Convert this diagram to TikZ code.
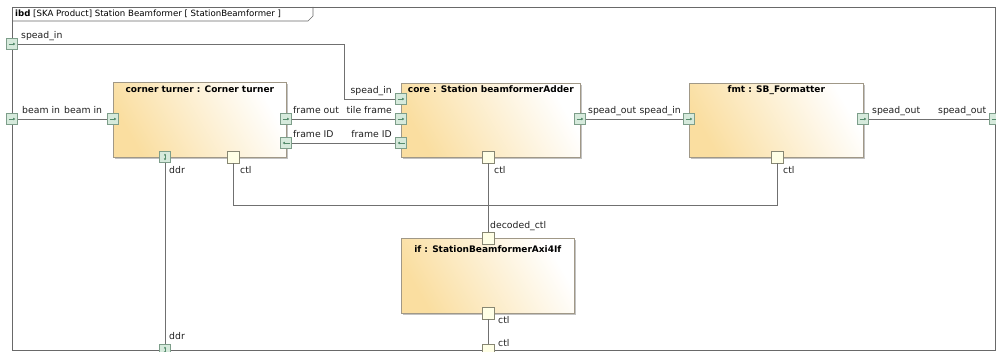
\documentclass[tikz,border=0pt]{standalone}
\usepackage{fontspec}
\setmainfont{DejaVu Sans}
\usetikzlibrary{arrows.meta,shadows,calc}
\definecolor{frm}{RGB}{105,105,105}
\definecolor{wire}{RGB}{112,112,112}
\definecolor{boxb}{RGB}{160,152,135}
\definecolor{boxf}{RGB}{250,222,160}
\definecolor{pfill}{RGB}{214,234,220}
\definecolor{pbord}{RGB}{125,158,138}
\definecolor{parr}{RGB}{85,140,108}
\definecolor{cfill}{RGB}{255,255,230}
\definecolor{cbord}{RGB}{135,135,115}
\tikzset{
 lbl/.style={inner sep=0, font=\fontsize{9.3}{11}\selectfont, text=black!88},
 ttl/.style={inner sep=0, font=\fontsize{9}{11}\selectfont\bfseries, anchor=base},
 blk/.style={draw=boxb, line width=0.7pt, left color=boxf, right color=white, shading angle=120,
   drop shadow={shadow xshift=2pt, shadow yshift=-2pt, fill=black!40, opacity=0.6},
   inner sep=0, anchor=north west},
 portbase/.style={draw=pbord, fill=pfill, minimum size=11pt, inner sep=0, line width=0.6pt},
 portR/.style={portbase, path picture={\draw[parr, line width=0.45pt, -{Latex[length=2.4pt,width=2.8pt]}]
   ([xshift=2pt]path picture bounding box.west) -- ([xshift=-2pt]path picture bounding box.east);}},
 portL/.style={portbase, path picture={\draw[parr, line width=0.45pt, -{Latex[length=2.4pt,width=2.8pt]}]
   ([xshift=-2pt]path picture bounding box.east) -- ([xshift=2pt]path picture bounding box.west);}},
 portUD/.style={portbase, path picture={\draw[parr, line width=0.45pt, {Latex[length=2pt,width=2.4pt]}-{Latex[length=2pt,width=2.4pt]}]
   ([yshift=-2pt]path picture bounding box.north) -- ([yshift=2pt]path picture bounding box.south);}},
 cport/.style={draw=cbord, fill=cfill, minimum size=12pt, inner sep=0, line width=0.6pt},
 conn/.style={draw=wire, line width=0.7pt},
}
\begin{document}
\begin{tikzpicture}[x=1pt,y=-1pt]
\useasboundingbox (0,0) rectangle (996,352);
% frame
\draw[frm, line width=0.8pt] (12,7) rectangle (995,350);
\draw[frm, line width=0.6pt] (12,21) -- (308,21) -- (313,16) -- (313,7);
\node[anchor=base west, inner sep=0, font=\fontsize{8.6}{10}\selectfont] (hdr) at (15,17)
  {\textbf{ibd} [SKA Product] Station Beamformer [ StationBeamformer ]};
% blocks
\node[blk, minimum width=173pt, minimum height=75pt] (ct) at (113,82) {};
\node[blk, minimum width=179pt, minimum height=74pt] (co) at (401,83) {};
\node[blk, minimum width=174pt, minimum height=74pt] (fm) at (689,83) {};
\node[blk, minimum width=173pt, minimum height=75pt] (if) at (401,238) {};
\node[ttl] (ctt) at ($(ct.north)+(0,11)$) {corner turner : Corner turner};
\node[ttl] (cot) at ($(co.north)+(0,10)$) {core : Station beamformerAdder};
\node[ttl] (fmt) at ($(fm.north)+(0,10)$) {fmt : SB\_Formatter};
\node[ttl] (ift) at ($(if.north)+(0,15)$) {if : StationBeamformerAxi4If};
% connectors
\coordinate (bend) at (344,44);
\coordinate (bus) at (0,205);
\path (12,44) coordinate (pa) (12,119) coordinate (pb) (995,119) coordinate (pc)
      (165,350) coordinate (pd) (488,350) coordinate (pe);
% ports
\node[portR] (f_spin) at (pa) {};
\node[portR] (f_bin) at (pb) {};
\node[portR] (f_sout) at (pc) {};
\node[portUD] (f_ddr) at (pd) {};
\node[cport] (f_ctl) at (pe) {};
\node[portR] (ct_bin) at (113,119) {};
\node[portR] (ct_fout) at (286,119) {};
\node[portL] (ct_fid) at (286,143) {};
\node[portUD] (ct_ddr) at (165,157) {};
\node[cport] (ct_ctl) at (233,157) {};
\node[portR] (co_spin) at (401,99) {};
\node[portR] (co_tile) at (401,119) {};
\node[portL] (co_fid) at (401,143) {};
\node[portR] (co_sout) at (580,119) {};
\node[cport] (co_ctl) at (488,157) {};
\node[portR] (fm_spin) at (689,119) {};
\node[portR] (fm_sout) at (863,119) {};
\node[cport] (fm_ctl) at (777,157) {};
\node[cport] (if_dec) at (488,238) {};
\node[cport] (if_ctl) at (488,313) {};
\draw[conn] (f_spin.east) -- (bend) |- (co_spin.west);
\draw[conn] (f_bin.east) -- (ct_bin.west);
\draw[conn] (ct_fout.east) -- (co_tile.west);
\draw[conn] (ct_fid.east) -- (co_fid.west);
\draw[conn] (co_sout.east) -- (fm_spin.west);
\draw[conn] (fm_sout.east) -- (f_sout.west);
\draw[conn] (ct_ddr.south) -- (f_ddr.north);
\draw[conn] (ct_ctl.south) -- (ct_ctl.south |- bus) -- (fm_ctl.south |- bus) -- (fm_ctl.south);
\draw[conn] (co_ctl.south) -- (if_dec.north);
\draw[conn] (if_ctl.south) -- (f_ctl.north);
% labels
\node[lbl, anchor=base west] (l1) at (21,39) {spead\_in};
\node[lbl, anchor=base east] (l2) at (392,94) {spead\_in};
\node[lbl, anchor=base west] (l3) at (22,114) {beam in};
\node[lbl, anchor=base west] (l4) at (64,114) {beam in};
\node[lbl, anchor=base west] (l5) at (293,114) {frame out};
\node[lbl, anchor=base east] (l6) at (392,114) {tile frame};
\node[lbl, anchor=base west] (l7) at (293,138) {frame ID};
\node[lbl, anchor=base east] (l8) at (392,138) {frame ID};
\node[lbl, anchor=base west] (l9) at (588,114) {spead\_out};
\node[lbl, anchor=base east] (l10) at (681,114) {spead\_in};
\node[lbl, anchor=base west] (l11) at (872,114) {spead\_out};
\node[lbl, anchor=base west] (l12) at (938,114) {spead\_out};
\node[lbl, anchor=base west] (l13) at (169,174) {ddr};
\node[lbl, anchor=base west] (l14) at (240,174) {ctl};
\node[lbl, anchor=base west] (l15) at (494,174) {ctl};
\node[lbl, anchor=base west] (l16) at (783,174) {ctl};
\node[lbl, anchor=base west] (l17) at (490,229) {decoded\_ctl};
\node[lbl, anchor=base west] (l18) at (498,324) {ctl};
\node[lbl, anchor=base west] (l19) at (498,347) {ctl};
\node[lbl, anchor=base west] (l20) at (169,340) {ddr};
\end{tikzpicture}
\end{document}
